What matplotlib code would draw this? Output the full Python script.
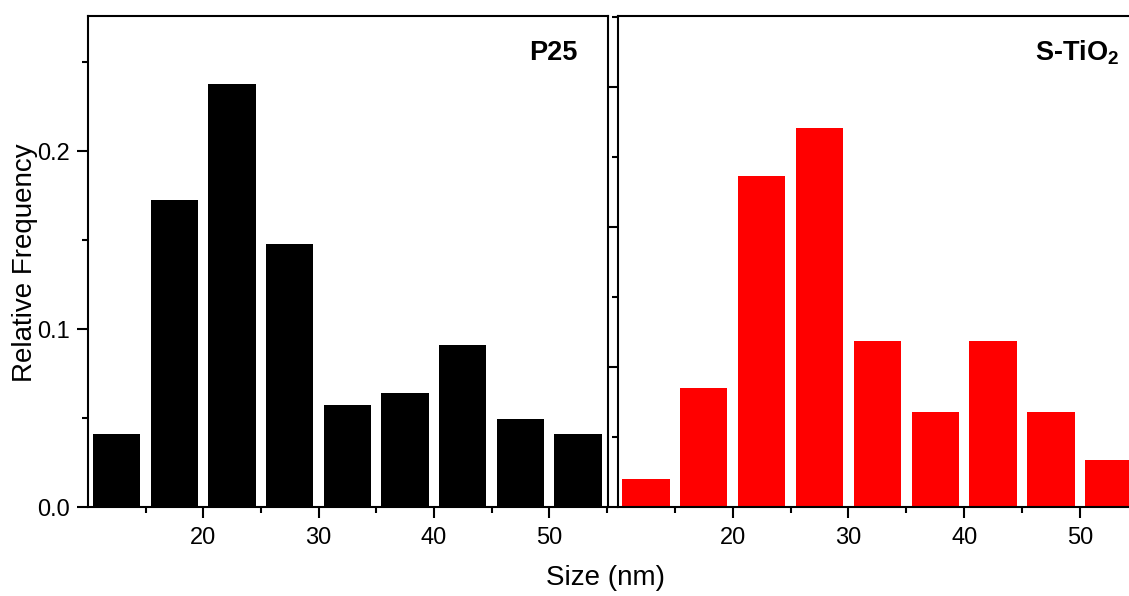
import numpy as np
import matplotlib.pyplot as plt
from matplotlib.ticker import MultipleLocator, NullFormatter

plt.rcParams['font.family'] = ['Liberation Sans', 'DejaVu Sans']

# bin centres (nm) and relative frequencies
size_nm = [12.5, 17.5, 22.5, 27.5, 32.5, 37.5, 42.5, 47.5, 52.5]
freq_p25 = [0.041, 0.1725, 0.238, 0.148, 0.0575, 0.064, 0.091, 0.0495, 0.041]
freq_stio2 = [0.020, 0.085, 0.237, 0.271, 0.119, 0.068, 0.119, 0.068, 0.034]
bar_w = 4.1

W, H = 1129, 596
fig = plt.figure(figsize=(W/100, H/100), dpi=100)

# left panel, P25
ax1 = fig.add_axes([88/W, 88.7/H, 520/W, 491.3/H])
ax1.bar(size_nm, freq_p25, width=bar_w, color='black', linewidth=0)
ax1.set_xlim(10.0, 55.1)
ax1.set_ylim(0, 0.276)
ax1.xaxis.set_major_locator(plt.FixedLocator([20, 30, 40, 50]))
ax1.xaxis.set_minor_locator(plt.FixedLocator([15, 25, 35, 45, 55]))
ax1.yaxis.set_major_locator(MultipleLocator(0.1))
ax1.yaxis.set_minor_locator(MultipleLocator(0.05))
ax1.yaxis.set_major_formatter(plt.FormatStrFormatter('%.1f'))
ax1.text(0.942, 0.925, 'P25', transform=ax1.transAxes, ha='right', va='center',
         fontsize=19.5, fontweight='bold')

# right panel, S-TiO2 (runs past the right edge of the picture)
ax2 = fig.add_axes([618/W, 88.7/H, 520/W, 491.3/H])
ax2.bar(size_nm, freq_stio2, width=bar_w, color='#ff0000', linewidth=0)
ax2.set_xlim(10.1, 55.0)
ax2.set_ylim(0, 0.351)
ax2.xaxis.set_major_locator(plt.FixedLocator([20, 30, 40, 50]))
ax2.xaxis.set_minor_locator(plt.FixedLocator([15, 25, 35, 45, 55]))
ax2.yaxis.set_major_locator(MultipleLocator(0.1))
ax2.yaxis.set_minor_locator(MultipleLocator(0.05))
ax2.yaxis.set_major_formatter(NullFormatter())
ax2.text(0.965, 0.925, r'S-TiO$_\mathregular{2}$', transform=ax2.transAxes,
         ha='right', va='center', fontsize=19.5, fontweight='bold')

for ax in (ax1, ax2):
    for s in ax.spines.values():
        s.set_linewidth(1.5)
    ax.tick_params(which='major', direction='out', length=8, width=1.5,
                   labelsize=17, pad=5)
    ax.tick_params(which='minor', direction='out', length=4, width=1.5)
    ax.tick_params(axis='x', which='major', pad=6)

fig.text(25/W, 1 - 262.5/H, 'Relative Frequency', rotation=90, ha='center',
         va='center', fontsize=20)
fig.text(605/W, 1 - 578/H, 'Size (nm)', ha='center', va='center', fontsize=20)

fig.savefig('out.png', dpi=100)
